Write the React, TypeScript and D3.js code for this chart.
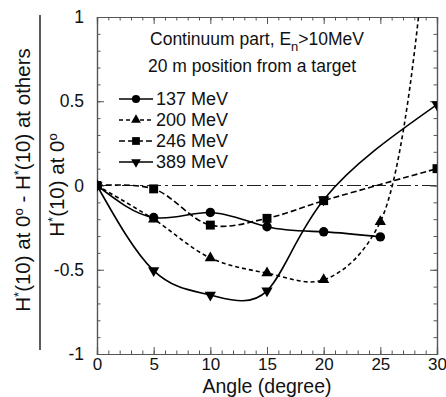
import React, { useEffect, useRef } from 'react';
import * as d3 from 'd3';

// angles (degree) and values
const angles = [0, 5, 10, 15, 20, 25, 30];
const mev137 = [0, -0.19, -0.16, -0.245, -0.275, -0.305];
const mev200 = [0, -0.2, -0.43, -0.52, -0.56, -0.215, 2.3];
const mev246 = [0, -0.02, -0.235, -0.195, -0.09, null, 0.1];
const mev389 = [0, -0.505, -0.65, -0.625, -0.085, null, 0.48];

const seriesNames = ['137 MeV', '200 MeV', '246 MeV', '389 MeV'];
const xTicks = [0, 5, 10, 15, 20, 25, 30];
const yTicks = [-1, -0.5, 0, 0.5, 1];

const App = () => {
    const svgRef = useRef<SVGSVGElement>(null);

    useEffect(() => {
        const svg = d3.select(svgRef.current);
        svg.selectAll('*').remove();

        const margin = { top: 17, right: 9, bottom: 43, left: 97 };
        const width = 446 - margin.left - margin.right;
        const height = 397 - margin.top - margin.bottom;
        const font = 'Liberation Sans, Arial, Helvetica, sans-serif';

        const x = d3.scaleLinear().domain([0, 30]).range([0, width]);
        const y = d3.scaleLinear().domain([-1, 1]).range([height, 0]);

        const g = svg.append('g')
            .attr('transform', `translate(${margin.left},${margin.top})`);

        svg.append('defs').append('clipPath')
            .attr('id', 'plot-clip')
            .append('rect')
            .attr('width', width)
            .attr('height', height);

        // zero reference line
        g.append('line')
            .attr('x1', 0).attr('x2', width)
            .attr('y1', y(0)).attr('y2', y(0))
            .attr('stroke', '#222')
            .attr('stroke-width', 1.1)
            .attr('stroke-dasharray', '14 4 3 4');

        // axes with inner ticks on all four sides
        const xMinor = d3.range(0, 31, 1);
        const yMinor = d3.range(-1, 1.0001, 0.1);

        const axisBottom = g.append('g').attr('transform', `translate(0,${height})`)
            .call(d3.axisBottom(x).tickValues(xTicks).tickSize(-7).tickPadding(4).tickFormat(d => String(d)));
        g.append('g').attr('transform', `translate(0,${height})`)
            .call(d3.axisBottom(x).tickValues(xMinor).tickSize(-3.5).tickFormat(() => ''));
        g.append('g')
            .call(d3.axisTop(x).tickValues(xTicks).tickSize(-7).tickFormat(() => ''));
        g.append('g')
            .call(d3.axisTop(x).tickValues(xMinor).tickSize(-3.5).tickFormat(() => ''));

        const axisLeft = g.append('g')
            .call(d3.axisLeft(y).tickValues(yTicks).tickSize(-7).tickPadding(13).tickFormat(d => String(d)));
        g.append('g')
            .call(d3.axisLeft(y).tickValues(yMinor).tickSize(-3.5).tickFormat(() => ''));
        g.append('g').attr('transform', `translate(${width},0)`)
            .call(d3.axisRight(y).tickValues(yTicks).tickSize(-7).tickFormat(() => ''));
        g.append('g').attr('transform', `translate(${width},0)`)
            .call(d3.axisRight(y).tickValues(yMinor).tickSize(-3.5).tickFormat(() => ''));

        g.selectAll('.domain').attr('stroke', '#555').attr('stroke-width', 1.2);
        g.selectAll('.tick line').attr('stroke', '#555').attr('stroke-width', 1);

        axisBottom.selectAll('text')
            .attr('font-family', font).attr('font-size', 17).attr('fill', '#111');
        axisLeft.selectAll('text')
            .attr('font-family', font).attr('font-size', 17.5).attr('fill', '#111');

        // series lines
        const allSeries = [mev137, mev200, mev246, mev389];
        const dashes = ['none', '4 3', '6 3', 'none'];
        const symbols = [d3.symbolCircle, d3.symbolTriangle, d3.symbolSquare, d3.symbolTriangle];
        const symbolSizes = [70, 55, 80, 55];
        const rotations = [0, 0, 0, 180];
        const curves = [
            d3.curveNatural,
            d3.curveCatmullRom.alpha(0.5),
            d3.curveCatmullRom.alpha(0.5),
            d3.curveNatural,
        ];

        const plot = g.append('g').attr('clip-path', 'url(#plot-clip)');

        allSeries.forEach((vals, i) => {
            const pts = vals
                .map((v, j) => [angles[j], v] as [number, number | null])
                .filter(p => p[1] !== null) as [number, number][];

            const line = d3.line<[number, number]>()
                .x(d => x(d[0]))
                .y(d => y(d[1]))
                .curve(curves[i]);

            plot.append('path')
                .datum(pts)
                .attr('d', line)
                .attr('fill', 'none')
                .attr('stroke', '#000')
                .attr('stroke-width', 1.6)
                .attr('stroke-dasharray', dashes[i]);

            plot.selectAll(`.dot-${i}`)
                .data(pts.filter(p => p[1] <= 1))
                .enter().append('path')
                .attr('class', `dot-${i}`)
                .attr('d', d3.symbol().type(symbols[i]).size(symbolSizes[i]))
                .attr('transform', d => `translate(${x(d[0])},${y(d[1])}) rotate(${rotations[i]})`)
                .attr('fill', '#000');
        });

        // legend
        const legend = g.append('g')
            .attr('transform', `translate(22,82)`)
            .selectAll('g')
            .data(seriesNames)
            .enter().append('g')
            .attr('transform', (d, i) => `translate(0,${i * 21})`);

        legend.append('line')
            .attr('x1', 0).attr('x2', 34)
            .attr('stroke', '#000')
            .attr('stroke-width', 1.6)
            .attr('stroke-dasharray', (d, i) => dashes[i]);

        legend.append('path')
            .attr('d', (d, i) => d3.symbol().type(symbols[i]).size(symbolSizes[i] * 0.75)())
            .attr('transform', (d, i) => `translate(17,0) rotate(${rotations[i]})`)
            .attr('fill', '#000');

        legend.append('text')
            .attr('x', 37)
            .attr('dy', '0.35em')
            .attr('font-family', font)
            .attr('font-size', 18)
            .attr('fill', '#111')
            .text(d => d);

        // annotation
        const note = g.append('text')
            .attr('x', 160)
            .attr('y', 28)
            .attr('text-anchor', 'middle')
            .attr('font-family', font)
            .attr('font-size', 17.5)
            .attr('fill', '#111');
        note.append('tspan').text('Continuum part, E');
        note.append('tspan').attr('dy', 6).attr('font-size', 13).text('n');
        note.append('tspan').attr('dy', -6).text('>10MeV');

        g.append('text')
            .attr('x', 155)
            .attr('y', 55)
            .attr('text-anchor', 'middle')
            .attr('font-family', font)
            .attr('font-size', 17.5)
            .attr('fill', '#111')
            .text('20 m position from a target');

        // x axis title
        svg.append('text')
            .attr('x', margin.left + width / 2)
            .attr('y', 393)
            .attr('text-anchor', 'middle')
            .attr('font-family', font)
            .attr('font-size', 19.5)
            .attr('fill', '#111')
            .text('Angle (degree)');

        // y axis title as a fraction
        const num = svg.append('text')
            .attr('transform', 'translate(30,180) rotate(-90)')
            .attr('text-anchor', 'middle')
            .attr('font-family', font)
            .attr('font-size', 20.5)
            .attr('fill', '#111');
        num.append('tspan').text('H');
        num.append('tspan').attr('dy', -7).attr('font-size', 13).text('*');
        num.append('tspan').attr('dy', 7).text('(10) at 0');
        num.append('tspan').attr('dy', -7).attr('font-size', 13).text('o');
        num.append('tspan').attr('dy', 7).text(' - H');
        num.append('tspan').attr('dy', -7).attr('font-size', 13).text('*');
        num.append('tspan').attr('dy', 7).text('(10) at others');

        svg.append('line')
            .attr('x1', 40).attr('x2', 40)
            .attr('y1', 15).attr('y2', 350)
            .attr('stroke', '#333')
            .attr('stroke-width', 1.6);

        const den = svg.append('text')
            .attr('transform', 'translate(64,185) rotate(-90)')
            .attr('text-anchor', 'middle')
            .attr('font-family', font)
            .attr('font-size', 20.5)
            .attr('fill', '#111');
        den.append('tspan').text('H');
        den.append('tspan').attr('dy', -7).attr('font-size', 13).text('*');
        den.append('tspan').attr('dy', 7).text('(10) at 0');
        den.append('tspan').attr('dy', -7).attr('font-size', 13).text('o');
    }, []);

    return (
        <svg
            ref={svgRef}
            width={446}
            height={397}
            style={{ position: 'absolute', left: 0, top: 0, background: '#fff' }}
        />
    );
};

export default App;
